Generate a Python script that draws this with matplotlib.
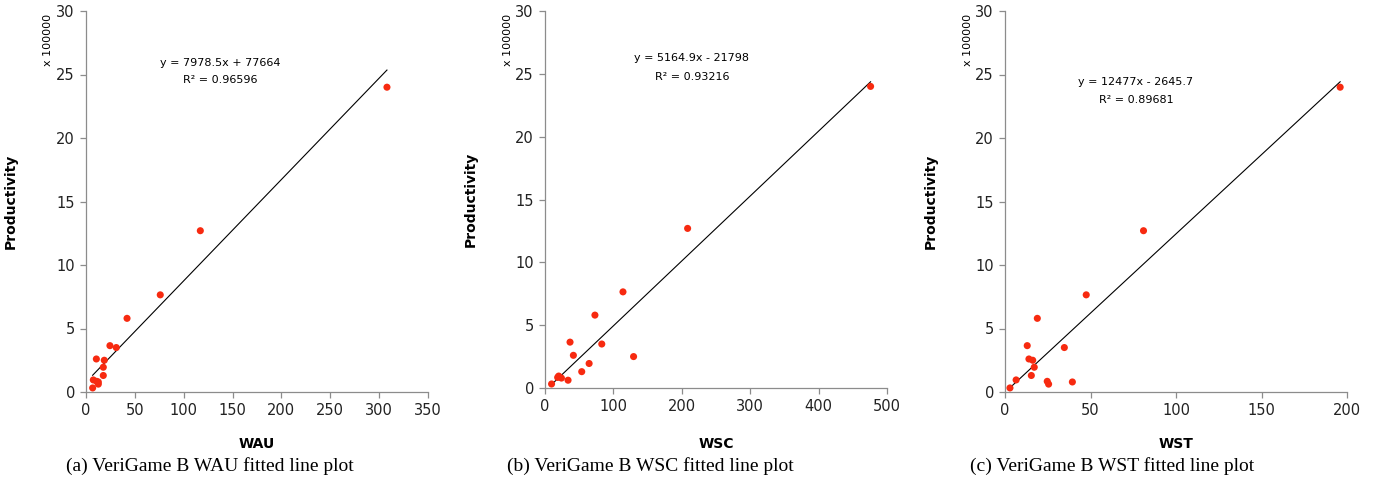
import matplotlib
matplotlib.use('Agg')
import matplotlib.pyplot as plt
import numpy as np

# productivity (raw units), shared by all three panels
productivity = [2400000, 1270000, 765000, 580000, 365000, 350000, 260000, 250000,
                195000, 130000, 95000, 84000, 79000, 62000, 32000]

wau = [308, 117, 76, 42, 24.5, 31, 10.6, 18.7, 17.7, 17.7, 7.5, 10.9, 12.6, 12.6, 6.8]
wsc = [476, 208.5, 114, 73, 36.6, 83, 41.5, 129.5, 64.5, 53.7, 20, 18.5, 24, 33.7, 9.6]
wst = [196, 81, 47.5, 18.9, 13, 34.7, 14, 16.2, 17.1, 15.4, 6.5, 24.7, 39.4, 25.5, 2.9]

slopes = [7978.5, 5164.9, 12477]
intercepts = [77664, -21798, -2645.7]
equations = ['y = 7978.5x + 77664', 'y = 5164.9x - 21798', 'y = 12477x - 2645.7']
r2_labels = ['R² = 0.96596', 'R² = 0.93216', 'R² = 0.89681']
xnames = ['WAU', 'WSC', 'WST']
xmaxes = [350, 500, 200]
xsteps = [50, 100, 50]
captions = ['(a) VeriGame B WAU fitted line plot',
            '(b) VeriGame B WSC fitted line plot',
            '(c) VeriGame B WST fitted line plot']

W, H = 1377, 493
# axes boxes in pixels: left, right, top, bottom
boxes = [(86, 428, 11, 392), (545, 887, 11, 388), (1005, 1347, 11, 392)]
offsets = [0, 460, 920]
eq_pos = [(220, 63, 80), (692, 58, 77), (1136, 82, 100)]
cap_x = [210, 650, 1112]

plt.rcParams['font.family'] = 'DejaVu Sans'
fig = plt.figure(figsize=(W / 100, H / 100), dpi=100)

xs_all = [wau, wsc, wst]
for i in range(3):
    l, r, t, b = boxes[i]
    off = offsets[i]
    ax = fig.add_axes([l / W, (H - b) / H, (r - l) / W, (b - t) / H])
    x = np.array(xs_all[i])
    y = np.array(productivity) / 100000
    ax.scatter(x, y, s=26, color='#f72a10', edgecolors='none', zorder=3)
    xl = np.array([x.min(), x.max()])
    ax.plot(xl, (slopes[i] * xl + intercepts[i]) / 100000, color='black', lw=0.8, zorder=2)

    ax.set_xlim(0, xmaxes[i])
    ax.set_ylim(0, 30)
    ax.set_xticks(np.arange(0, xmaxes[i] + 1, xsteps[i]))
    ax.set_yticks(np.arange(0, 31, 5))
    for s in ['top', 'right']:
        ax.spines[s].set_visible(False)
    for s in ['left', 'bottom']:
        ax.spines[s].set_color('#8c8c8c')
        ax.spines[s].set_linewidth(0.9)
    ax.tick_params(direction='out', length=4, width=0.9, color='#8c8c8c',
                   labelsize=10.5, labelcolor='#222222', pad=4)

    ax.set_ylabel('Productivity', fontsize=10, fontweight='bold')
    ax.yaxis.set_label_coords((off + 18 - l) / (r - l), 0.5)
    ax.set_xlabel(xnames[i], fontsize=10, fontweight='bold')
    ax.xaxis.set_label_coords(0.5, (b - 437) / (b - t))
    ax.text((off + 48 - l) / (r - l), (b - 40) / (b - t), 'x 100000', rotation=90,
            fontsize=8, ha='center', va='center', transform=ax.transAxes)

    cx, y1, y2 = eq_pos[i]
    fig.text(cx / W, 1 - y1 / H, equations[i], fontsize=8, ha='center', va='center')
    fig.text(cx / W, 1 - y2 / H, r2_labels[i], fontsize=8, ha='center', va='center')
    fig.text(cap_x[i] / W, 1 - 466 / H, captions[i], fontsize=14,
             family='Liberation Serif', ha='center', va='center')

fig.savefig('out.png', dpi=100)
